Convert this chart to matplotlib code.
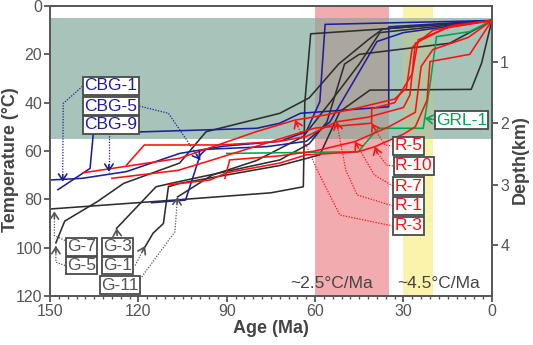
import matplotlib
matplotlib.use('Agg')
import numpy as np
import matplotlib.pyplot as plt
from matplotlib.patches import Rectangle
from matplotlib.ticker import MultipleLocator

plt.rcParams['font.family'] = ['Liberation Sans', 'DejaVu Sans']

# zones
temp_zone = (5, 55)       # partial annealing zone (°C)
pink_zone = (60, 35)      # Ma
yellow_zone = (30, 20)    # Ma

# right axis: depth ticks and the temperature they sit at
depth_km = [1, 2, 3, 4]
depth_temp = [23, 48.5, 74, 99]

# thermal histories (age Ma, temperature °C)
cbg1 = [(150, 72), (139, 71.3), (124, 68.5), (106, 61), (91, 58), (72, 56),
        (63, 52), (58.4, 39.6), (56.6, 7.6), (0, 6)]
cbg9 = [(147.3, 76), (136.4, 67.2), (135.3, 52.7), (79.8, 50.6), (72, 48.5),
        (65, 44.4), (35, 41.7), (35, 8.6), (0, 6)]
cbg5 = [(115.5, 81.4), (104, 80.3), (99, 61.6), (97, 59.3), (76.5, 58.2),
        (63, 56), (55, 48), (39, 14.7), (30, 11), (0, 6)]

g7 = [(150, 84), (110, 80.5), (75, 77.3), (64, 74.8), (63.5, 40),
      (61.5, 11.5), (37, 9.5), (0, 6)]
g5 = [(148, 98), (145, 89), (134, 81), (125, 73.4), (106, 65), (97, 52),
      (72, 44.4), (62, 38), (52, 24), (42, 14), (37, 9.5), (0, 6)]
g3 = [(127.4, 92), (114, 74.8), (109, 73.4), (72, 63.7), (62, 57),
      (56, 48), (50, 24), (45, 20), (14.3, 15.4), (0, 6)]
g1 = [(117.7, 99.6), (115, 94), (111.5, 90), (109.8, 74.8), (106, 73.4),
      (72, 66), (58.4, 61.6), (51.6, 43.7), (41.4, 34.8), (7, 34.5),
      (3.5, 23.7), (0, 6)]
g11 = [(106.7, 79), (95, 70), (80, 64), (64, 54), (55, 40), (45, 24),
       (38, 11), (0, 6)]

grl1 = [(90, 61), (45.4, 60.3), (38.6, 50.6), (23.3, 50.6), (21, 32.7),
        (18.8, 12.7), (7.5, 10.6), (0, 6)]

r3 = [(138.7, 69), (106, 63), (80, 52), (66.8, 47.2), (56, 45), (45, 42),
      (33, 38.5), (29, 34), (27, 17), (20, 10), (0, 6)]
r1 = [(124, 65.8), (118, 57.5), (92, 57.5), (72, 56), (63, 54),
      (52.7, 47.9), (42, 46), (30, 42), (27.8, 36.8), (26, 15.4),
      (14.8, 8.6), (0, 6)]
r5 = [(129, 71.3), (106.5, 68), (95.7, 64), (72, 55), (60, 50.5),
      (40.8, 48.5), (40.8, 42.5), (33, 40), (27, 28), (25, 14), (13, 8),
      (0, 6)]
r10 = [(109.8, 74), (95.7, 72), (90, 69), (72, 65), (63, 61.6),
       (45.4, 60.3), (39.7, 58.2), (30, 53), (26, 50), (22, 39), (21, 23),
       (7.5, 20), (0, 6)]
r7 = [(90.6, 71.3), (89, 63.7), (72, 62), (60, 60), (46.5, 56.1),
      (35, 50), (26, 44), (24, 25), (20, 18), (8, 13), (0, 6)]

BLUE = '#1f1f9a'
RED = '#ff1010'
BLACK = '#2e2e2e'
GREEN = '#00a551'
GREY = '#555555'

paths = [(g7, BLACK), (g5, BLACK), (g3, BLACK), (g1, BLACK), (g11, BLACK),
         (cbg1, BLUE), (cbg9, BLUE), (cbg5, BLUE), (grl1, GREEN),
         (r3, RED), (r1, RED), (r5, RED), (r10, RED), (r7, RED)]

# labels: text, age, temp, colour, leader (last point = arrow tip)
labels = [
    ('CBG-1', 129.3, 33.1, BLUE, [(136.9, 31), (145.5, 40.3), (145.7, 72.7)]),
    ('CBG-5', 129.3, 41.4, BLUE, [(119.7, 41.4), (109.8, 44.4), (99, 63.7)]),
    ('CBG-9', 129.3, 49.2, BLUE, [(130, 52.5), (130, 68.6)]),
    ('GRL-1', 10.3, 47.2, GREEN, [(19.6, 47), (22.7, 46.5)]),
    ('R-5', 28.2, 57.9, RED, [(33.6, 57.9), (36.3, 57.5), (39.2, 52), (40.8, 48.5)]),
    ('R-10', 26.5, 66.2, RED, [(33.6, 66.2), (35.7, 65.8), (39.1, 60.3), (39.7, 58.2)]),
    ('R-7', 28.2, 74.5, RED, [(33.6, 74.5), (39.9, 69.9), (46.5, 56.1)]),
    ('R-1', 28.2, 82.7, RED, [(33.6, 82.7), (45.7, 78.2), (49.6, 67.9), (52.7, 47.9)]),
    ('R-3', 28.2, 91.0, RED, [(33.6, 91), (51.6, 86.5), (59.3, 67.9), (66.8, 47.2)]),
    ('G-7', 139.3, 99.6, GREY, [(144.9, 97), (148.5, 95), (148.5, 85)]),
    ('G-5', 139.3, 107.4, GREY, [(144.9, 107.4), (148, 106), (148, 99.3)]),
    ('G-3', 127.1, 99.6, GREY, [(127.1, 96.2), (127.4, 92)]),
    ('G-1', 127.1, 107.4, GREY, [(121.1, 107.4), (117.7, 99.3)]),
    ('G-11', 126.2, 115.6, GREY, [(119.4, 113), (107.6, 93.4), (106.7, 79)]),
]

rates = [('~2.5°C/Ma', 40.5, 118), ('~4.5°C/Ma', 4, 118)]

fig = plt.figure(figsize=(5.33, 3.45), dpi=100)
ax = fig.add_axes([0.0938, 0.142, 0.829, 0.8406])
ax.set_xlim(150, 0)
ax.set_ylim(120, 0)

# background zones
green_c, pink_c, yellow_c = '#a6c4ba', '#f2abaf', '#fbf3ab'
ax.axhspan(temp_zone[0], temp_zone[1], color=green_c, lw=0, zorder=0)
ax.axvspan(pink_zone[1], pink_zone[0], color=pink_c, lw=0, zorder=0)
ax.axvspan(yellow_zone[1], yellow_zone[0], color=yellow_c, lw=0, zorder=0)
ax.add_patch(Rectangle((pink_zone[1], temp_zone[0]), pink_zone[0] - pink_zone[1],
                       temp_zone[1] - temp_zone[0], color='#aba79f', lw=0, zorder=0.5))
ax.add_patch(Rectangle((yellow_zone[1], temp_zone[0]), yellow_zone[0] - yellow_zone[1],
                       temp_zone[1] - temp_zone[0], color='#b5c4a1', lw=0, zorder=0.5))

for p, c in paths:
    ax.plot([a for a, t in p], [t for a, t in p], color=c, lw=1.15, zorder=2)

fig.canvas.draw()
for txt, a, t, c, lead in labels:
    ax.plot([q[0] for q in lead], [q[1] for q in lead], ls=(0, (1, 1.2)),
            color=c, lw=0.9, zorder=3)
    # arrow head at the tip, pointing along the last segment
    p0 = ax.transData.transform(lead[-2])
    p1 = ax.transData.transform(lead[-1])
    v = (p0 - p1) / np.hypot(*(p0 - p1))
    ax.annotate('', xy=lead[-1], xytext=(v[0] * 7, v[1] * 7), textcoords='offset pixels',
                arrowprops=dict(arrowstyle='->,head_length=0.45,head_width=0.3',
                                color=c, lw=1.2, shrinkA=0, shrinkB=0), zorder=4)
    ax.text(a, t, txt, ha='center', va='center', color=c, fontsize=12.5, zorder=5,
            bbox=dict(boxstyle='square,pad=0.08', fc='white', ec='#4a4a4a', lw=1.3))

for txt, a, t in rates:
    ax.text(a, t, txt, ha='right', va='bottom', color='#444444', fontsize=12.5, zorder=5)

# axes styling
for s in ax.spines.values():
    s.set_color(GREY)
    s.set_linewidth(1.4)
ax.set_xticks(np.arange(150, -1, -30))
ax.xaxis.set_minor_locator(MultipleLocator(3))
ax.set_yticks(np.arange(0, 121, 20))
ax.tick_params(axis='both', which='major', colors=GREY, labelsize=11.5, width=1.3,
               length=4, pad=1.5)
ax.tick_params(axis='x', which='minor', colors=GREY, width=1, length=2.5)
ax.set_xlabel('Age (Ma)', fontsize=13, fontweight='bold', color='#444444', labelpad=1)
ax.set_ylabel('Temperature (°C)', fontsize=13, fontweight='bold', color='#444444')
ax.yaxis.set_label_coords(-0.071, 0.47)

ax2 = ax.twinx()
ax2.set_ylim(120, 0)
ax2.set_yticks(depth_temp)
ax2.set_yticklabels([str(d) for d in depth_km])
for s in ax2.spines.values():
    s.set_visible(False)
ax2.tick_params(axis='y', colors=GREY, labelsize=11.5, width=1.3, length=4, pad=2)
ax2.set_ylabel('Depth(km)', fontsize=13, fontweight='bold', color='#444444')
ax2.yaxis.set_label_coords(1.046, 0.47)

fig.savefig('out.png', dpi=100)
